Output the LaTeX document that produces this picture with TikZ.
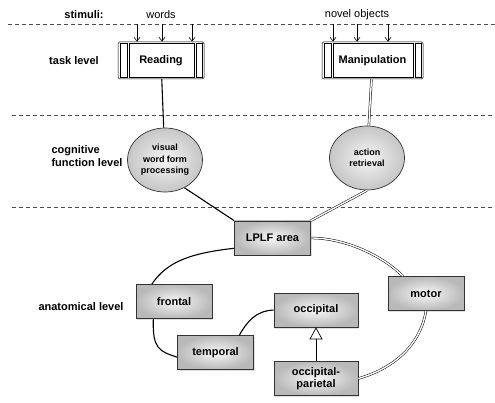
\documentclass[tikz,border=0pt]{standalone}
\usepackage{fontspec}
\setmainfont{Liberation Sans}
\usetikzlibrary{
    arrows.meta,
    calc,
    shapes,
    shadows
}

\begin{document}
\begin{tikzpicture}[x=1pt, y=-1pt,
    font=\fontsize{11}{12.5}\selectfont,
    lbl/.style={font=\fontsize{11}{12.5}\selectfont\bfseries},
    task/.style={draw, line width=0.5pt, rounded corners=1.5pt, minimum height=37pt, inner sep=0pt, font=\fontsize{11}{12.5}\selectfont\bfseries},
    func/.style={ellipse, draw=black!80, line width=0.7pt, minimum width=75pt, minimum height=64pt, inner sep=0pt, align=center,
        font=\fontsize{9}{11.5}\selectfont\bfseries, inner color=gray!8, outer color=gray!45},
    area/.style={draw=black!80, line width=0.7pt, minimum width=76pt, minimum height=34pt, inner sep=0pt, align=center,
        font=\fontsize{11}{12.5}\selectfont\bfseries, inner color=gray!6, outer color=gray!55,
        drop shadow={opacity=0.25, shadow xshift=1pt, shadow yshift=-1.5pt}},
    link/.style={line width=1.1pt},
    dlink/.style={double, double distance=1.4pt, line width=0.5pt},
    level/.style={dash pattern=on 4pt off 3pt, line width=0.6pt, black!70},
    >={Straight Barb[length=4pt,width=6pt]}]

    \useasboundingbox (0,0) rectangle (495,403);

    % levels
    \draw[level] (8,24) -- (495,24);
    \draw[level] (12,115) -- (495,115);
    \draw[level] (12,207) -- (495,207);

    \node[lbl] at (84,15) {stimuli:};
    \node at (161,15) {words};
    \node at (357,15) {novel objects};
    \node[lbl] at (74,61) {task level};
    \node[lbl, align=left, anchor=west] at (48,156) {cognitive\\function level};
    \node[lbl] at (81,307) {anatomical level};

    % task level
    \node[task, minimum width=86pt] (reading) at (161,60.5) {Reading};
    \node[task, minimum width=101pt] (manip) at (372.5,60.5) {Manipulation};
    \foreach \t in {reading, manip} {
        \draw[line width=0.5pt] ($(\t.north west)+(2,2)$) rectangle ($(\t.south west)+(9,-2)$);
        \draw[line width=0.5pt] ($(\t.north west)+(11,2)$) rectangle ($(\t.south east)+(-10,-2)$);
        \draw[line width=0.5pt] ($(\t.north east)+(-8,2)$) rectangle ($(\t.south east)+(-2.5,-2)$);
    }

    \coordinate (w1) at (137,24);
    \coordinate (w2) at (162,24);
    \coordinate (w3) at (192,24);
    \coordinate (o1) at (333,24);
    \coordinate (o2) at (357,24);
    \coordinate (o3) at (388,24);
    \foreach \c in {w1, w2, w3} \draw[->, line width=0.6pt] (\c) -- (\c |- reading.north);
    \foreach \c in {o1, o2, o3} \draw[->, line width=0.6pt] (\c) -- (\c |- manip.north);

    % cognitive function level
    \node[func] (visual) at (165,160) {visual\\word form\\processing};
    \node[func] (action) at (367,158) {action\\retrieval};

    % anatomical level
    \node[area] (lplf) at (272.5,238) {LPLF area};
    \node[area] (frontal) at (174,301.5) {frontal};
    \node[area] (temporal) at (215.5,352.5) {temporal};
    \node[area, minimum width=84pt] (occ) at (316,310) {occipital};
    \node[area, minimum width=84pt] (occpar) at (316,378.5) {occipital-\\parietal};
    \node[area] (motor) at (426,293.5) {motor};

    \draw[link] (reading) -- (visual);
    \draw[dlink] (manip) -- (action);
    \draw[link] (visual.-55) -- (lplf.north west);
    \draw[dlink] (action.south) -- (lplf.north east);

    \draw[link] (lplf.195) .. controls +(-45,5) and +(15,-22) .. (frontal.142);
    \draw[link] (frontal.220) .. controls +(-1,30) and +(-18,-6) .. (temporal.187);
    \draw[link] (temporal.36) .. controls +(8,-14) and +(-18,1) .. (occ.west);
    \draw[dlink] (lplf.east) .. controls +(35,0) and +(-20,-20) .. (motor.143);
    \draw[dlink] (motor.south) .. controls +(-6,35) and +(35,-10) .. (occpar.east);
    \draw[-{Triangle[open,length=12pt,width=13pt]}, line width=0.7pt] (occpar) -- (occ);
\end{tikzpicture}
\end{document}
